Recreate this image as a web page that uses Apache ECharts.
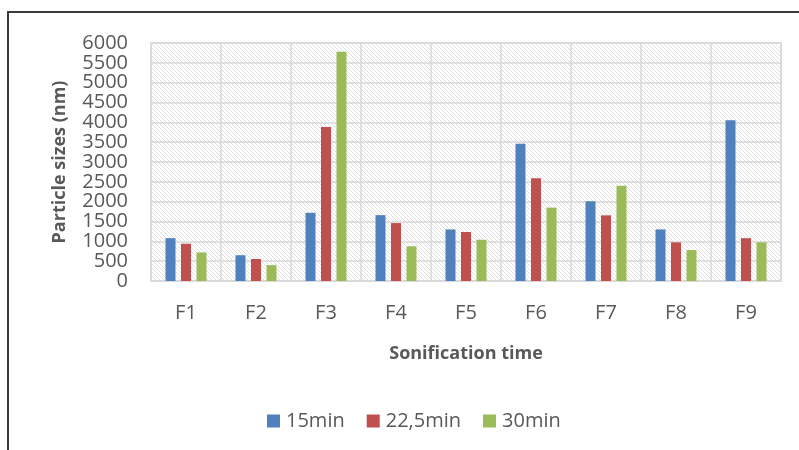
<!DOCTYPE html>
<html>
<head>
<meta charset="utf-8">
<script src="https://cdn.jsdelivr.net/npm/echarts@6/dist/echarts.min.js"></script>
<style>
  html, body { margin: 0; padding: 0; background: #fff; }
  #chart { width: 799px; height: 450px; }
</style>
</head>
<body>
<div id="chart"></div>
<script>
// Formulations and particle sizes per sonication time
const categories = ['F1', 'F2', 'F3', 'F4', 'F5', 'F6', 'F7', 'F8', 'F9'];
const seriesNames = ['15min', '22,5min', '30min'];
const values15 = [1080, 650, 1720, 1660, 1300, 3460, 2010, 1300, 4050];
const values22 = [940, 555, 3880, 1460, 1235, 2590, 1655, 975, 1080];
const values30 = [720, 400, 5780, 875, 1040, 1850, 2400, 780, 975];
const yTicks = { min: 0, max: 6000, interval: 500 };

const colors = ['#4F81BD', '#C0504D', '#9BBB59'];
const textColor = '#595959';
const gridColor = '#d9d9d9';
const fontFamily = '"Open Sans", "Liberation Sans", sans-serif';

// Light diagonal hatch used as the plot-area fill
function makeHatch() {
  const size = 4;
  const c = document.createElement('canvas');
  c.width = size; c.height = size;
  const ctx = c.getContext('2d');
  ctx.fillStyle = '#ffffff';
  ctx.fillRect(0, 0, size, size);
  ctx.fillStyle = '#e0e0e0';
  for (let i = 0; i < size; i++) {
    ctx.fillRect(i, i, 1, 1);
  }
  return c;
}

const chart = echarts.init(document.getElementById('chart'), null, { renderer: 'canvas' });

const seriesData = [values15, values22, values30];

chart.setOption({
  backgroundColor: '#ffffff',
  animation: false,
  textStyle: { fontFamily: fontFamily },
  graphic: [{
    type: 'rect',
    shape: { x: 8, y: 12, width: 820, height: 460 },
    style: { fill: 'none', stroke: '#3a3a3a', lineWidth: 2 },
    silent: true,
    z: 100
  }],
  grid: {
    left: 151, right: 18, top: 43, bottom: 169,
    show: true,
    backgroundColor: { image: makeHatch(), repeat: 'repeat' },
    borderColor: gridColor,
    borderWidth: 1.5
  },
  legend: {
    data: seriesNames,
    left: 262,
    top: 406,
    itemWidth: 13,
    itemHeight: 13,
    itemGap: 22,
    icon: 'rect',
    textStyle: { color: textColor, fontSize: 20, fontFamily: fontFamily, padding: [0, 0, 0, 1] }
  },
  xAxis: {
    type: 'category',
    data: categories,
    name: 'Sonification time',
    nameLocation: 'middle',
    nameGap: 64,
    nameTextStyle: { color: textColor, fontSize: 18, fontWeight: 'bold', fontFamily: fontFamily },
    axisLine: { show: true, lineStyle: { color: gridColor, width: 1.5 } },
    axisTick: { show: false },
    axisLabel: { color: textColor, fontSize: 20, margin: 22, fontFamily: fontFamily },
    splitLine: { show: true, lineStyle: { color: gridColor, width: 1.5 } }
  },
  yAxis: {
    type: 'value',
    min: yTicks.min,
    max: yTicks.max,
    interval: yTicks.interval,
    name: 'Particle sizes (nm)',
    nameLocation: 'middle',
    nameGap: 82,
    nameTextStyle: { color: textColor, fontSize: 18, fontWeight: 'bold', fontFamily: fontFamily },
    axisLine: { show: false },
    axisTick: { show: false },
    axisLabel: {
      color: textColor, fontSize: 20, margin: 23, fontFamily: fontFamily,
      formatter: (v) => String(v)
    },
    splitLine: { show: true, lineStyle: { color: gridColor, width: 1.5 } }
  },
  series: seriesNames.map((name, i) => ({
    name: name,
    type: 'bar',
    data: seriesData[i],
    barWidth: 10,
    barGap: '55%',
    itemStyle: { color: colors[i] }
  }))
});
</script>
</body>
</html>
